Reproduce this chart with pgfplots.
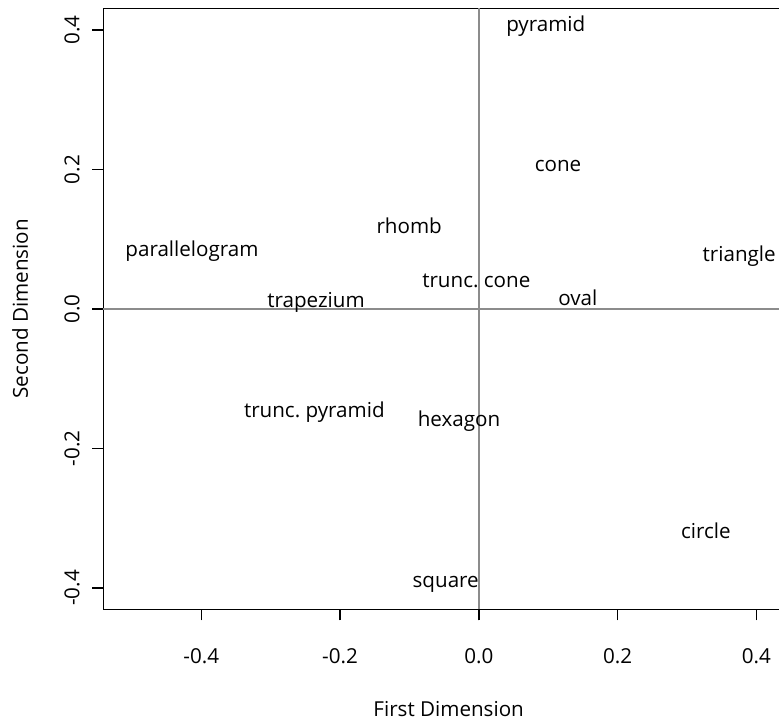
\documentclass[border=0pt]{standalone}
\usepackage{fontspec}
\setmainfont{Open Sans}
\usepackage{pgfplots}
\usepackage{pgfplotstable}
\pgfplotsset{compat=1.18}
\definecolor{ablinegray}{RGB}{140,140,140}
\newcommand{\lab}{\fontsize{20.6}{24}\selectfont}
\frenchspacing
\pgfplotstableread[col sep=comma]{
x,y,label
0.0965,0.4093,pyramid
0.1141,0.2085,cone
0.3752,0.0793,triangle
0.1427,0.0172,oval
-0.4133,0.0865,parallelogram
-0.1003,0.1201,rhomb
-0.0036,0.0426,trunc. cone
-0.2346,0.0139,trapezium
-0.2370,-0.1439,trunc. pyramid
-0.0285,-0.1574,hexagon
0.3271,-0.3175,circle
-0.0477,-0.3878,square
}\shapes
\begin{document}
\frenchspacing
\begin{tikzpicture}
\begin{axis}[
  name=ax,
  scale only axis, width=690.7pt, height=601pt,
  xmin=-0.5411, xmax=0.4542, ymin=-0.4308, ymax=0.4314,
  axis on top, clip=false,
  axis line style={line width=1.4pt, black},
  tick align=outside, xtick pos=bottom, ytick pos=left,
  major tick length=11pt,
  tick style={line width=1.4pt, black},
  xtick={-0.4,-0.2,0,0.2,0.4}, xticklabels={-0.4,-0.2,0.0,0.2,0.4},
  ytick={-0.4,-0.2,0,0.2,0.4}, yticklabels={-0.4,-0.2,0.0,0.2,0.4},
  tick label style={font=\lab},
  xticklabel style={anchor=north, inner sep=0pt, yshift=-28pt},
  yticklabel style={rotate=90, anchor=south, inner sep=0pt, yshift=12.5pt},
  extra x ticks={0}, extra x tick labels={}, extra x tick style={grid=major},
  extra y ticks={0}, extra y tick labels={}, extra y tick style={grid=major},
  major grid style={ablinegray, line width=1.4pt},
  every axis x label/.style={at={(rel axis cs:0.5,0)}, anchor=base, yshift=-107.4pt, font=\lab},
  every axis y label/.style={at={(rel axis cs:0,0.5)}, rotate=90, anchor=base, yshift=75.3pt, font=\lab},
  xlabel={First Dimension}, ylabel={Second Dimension},
]
\addplot[only marks, mark=none, nodes near coords, point meta=explicit symbolic,
  every node near coord/.append style={font=\lab, anchor=base, yshift=-8pt, inner sep=0pt, text=black}]
  table[x=x, y=y, meta=label] {\shapes};
\end{axis}
\pgfresetboundingbox
\path[use as bounding box] ([xshift=-103.3pt,yshift=-114.7pt]ax.south west) rectangle ([xshift=-15pt,yshift=8.3pt]ax.north east);
\end{tikzpicture}
\end{document}
